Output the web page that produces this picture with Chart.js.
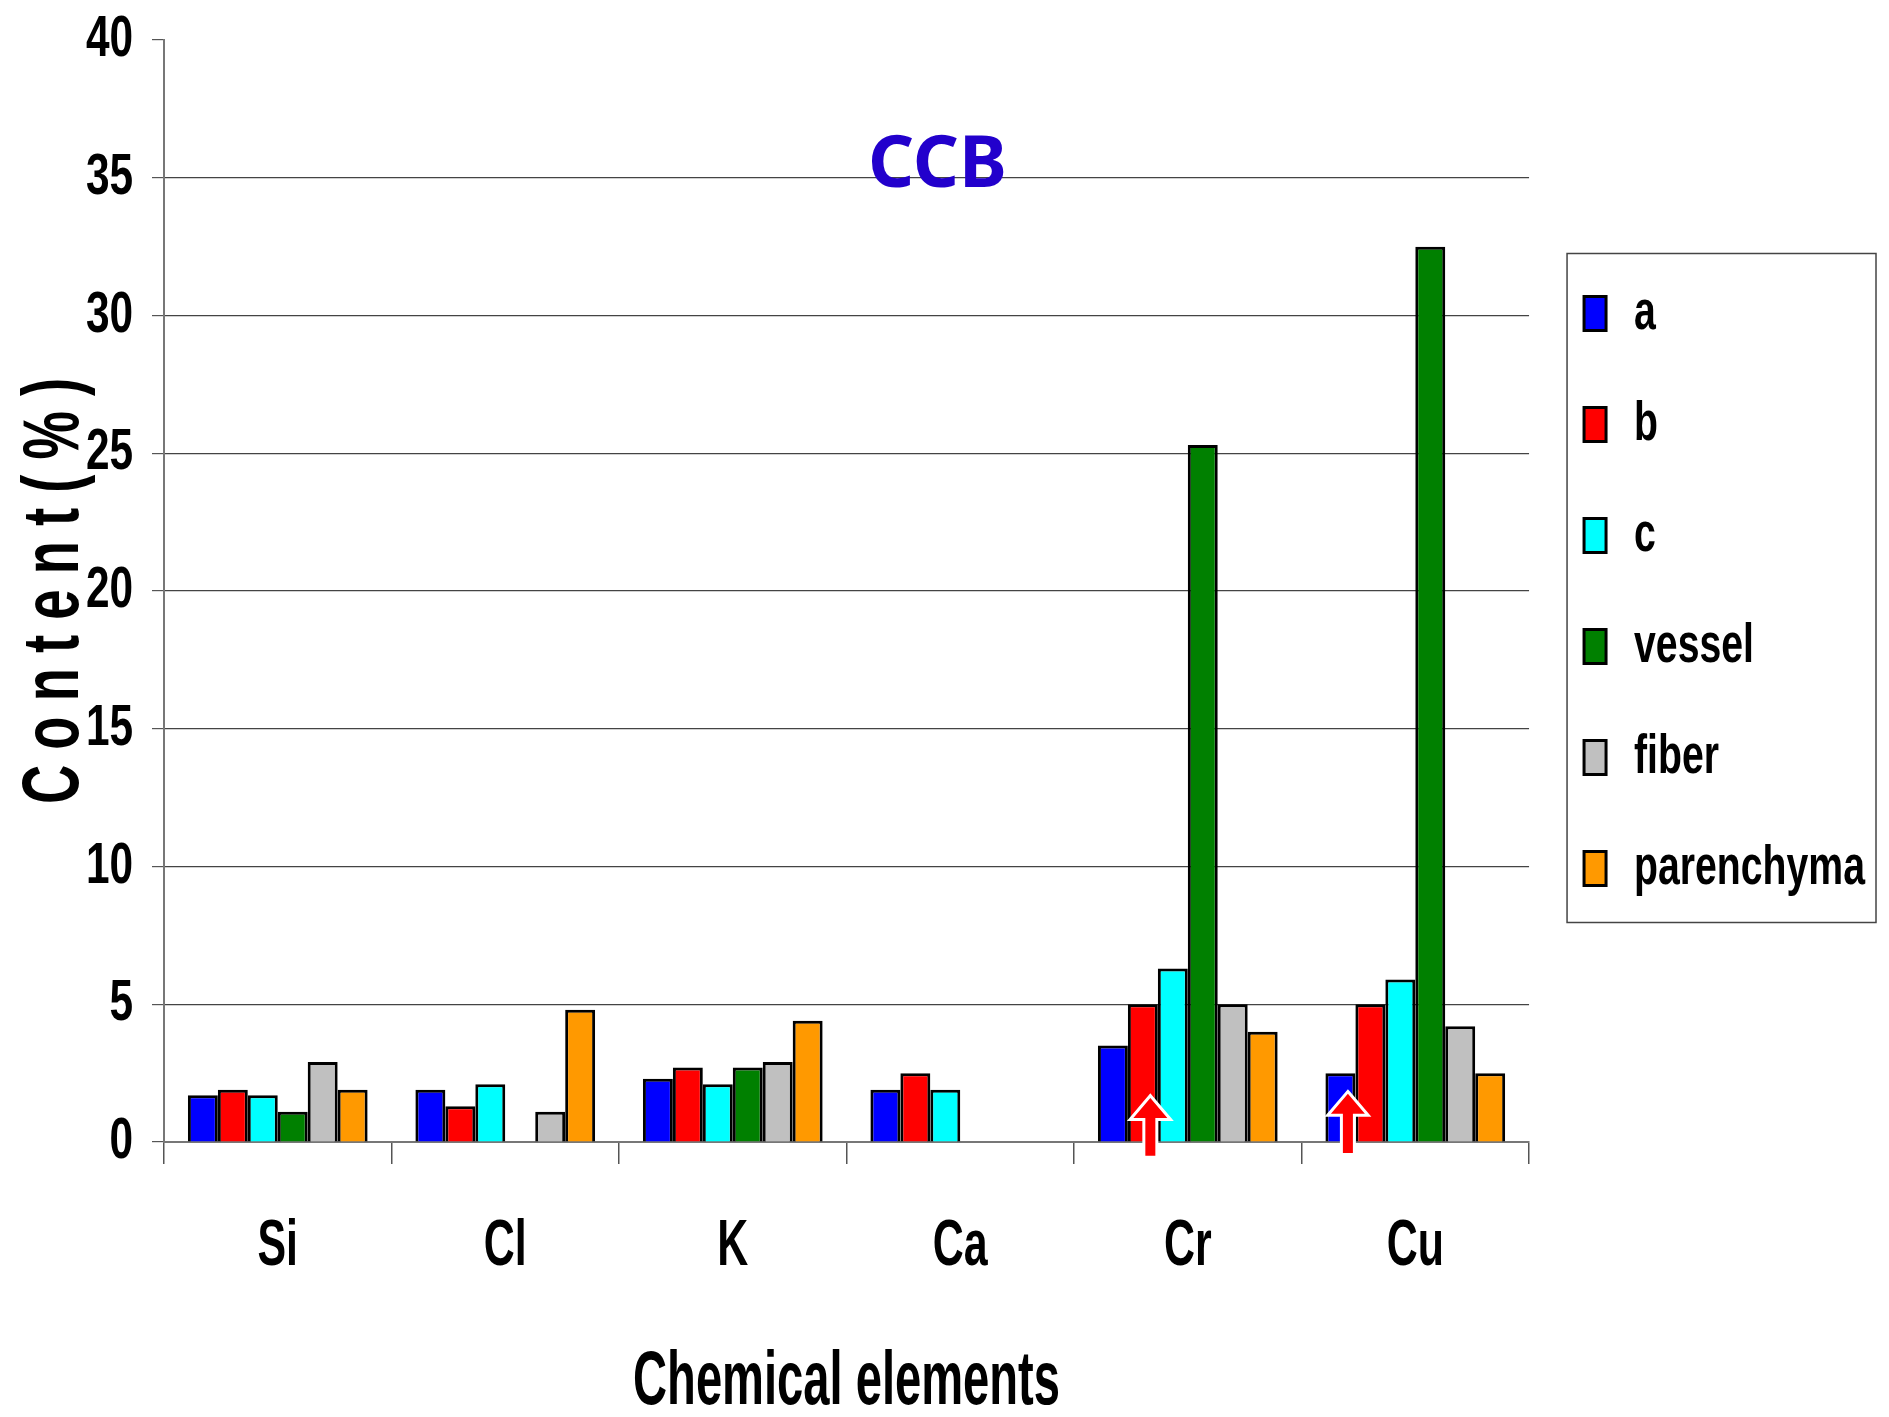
<!DOCTYPE html>
<html><head><meta charset="utf-8">
<script src="https://cdn.jsdelivr.net/npm/chart.js@4/dist/chart.umd.min.js"></script>
<style>html,body{margin:0;padding:0;background:#fff;} canvas{display:block;}</style>
</head><body>
<canvas id="c" width="1889" height="1417"></canvas>
<script>
const chartTitle = 'CCB';
const xAxisTitle = 'Chemical elements';
const yAxisTitle = 'C o n t e n t ( % )';
const categories = ['Si', 'Cl', 'K', 'Ca', 'Cr', 'Cu'];
const seriesNames = ['a', 'b', 'c', 'vessel', 'fiber', 'parenchyma'];
const valuesA = [1.7, 1.9, 2.3, 1.9, 3.5, 2.5];
const valuesB = [1.9, 1.3, 2.7, 2.5, 5.0, 5.0];
const valuesC = [1.7, 2.1, 2.1, 1.9, 6.3, 5.9];
const valuesVessel = [1.1, null, 2.7, null, 25.3, 32.5];
const valuesFiber = [2.9, 1.1, 2.9, null, 5.0, 4.2];
const valuesParenchyma = [1.9, 4.8, 4.4, null, 4.0, 2.5];
const yTicks = [0, 5, 10, 15, 20, 25, 30, 35, 40];
const arrowMarks = [
  { category: 'Cr', series: 'b', from: -0.5, to: 1.6 },
  { category: 'Cu', series: 'a', from: -0.4, to: 1.75 }
];

const seriesValues = [valuesA, valuesB, valuesC, valuesVessel, valuesFiber, valuesParenchyma];
const seriesColors = ['#0000FF', '#FF0000', '#00FFFF', '#008000', '#C0C0C0', '#FF9900'];

// Condensed bold lettering: the font family list carries a width factor (sqzNN),
// which falls back to Liberation Sans and is drawn horizontally condensed.
const fam = n => 'sqz' + n + ', "Liberation Sans", Arial, sans-serif';
(function () {
  const P = CanvasRenderingContext2D.prototype;
  const origFill = P.fillText, origMeasure = P.measureText;
  const factor = ctx => { const m = /sqz(\d+)/.exec(ctx.font); return m ? parseInt(m[1], 10) / 100 : 1; };
  P.fillText = function (text, x, y, maxWidth) {
    const f = factor(this);
    if (f === 1) { return maxWidth === undefined ? origFill.call(this, text, x, y) : origFill.call(this, text, x, y, maxWidth); }
    this.save();
    this.translate(x, y);
    this.scale(f, 1);
    if (maxWidth === undefined) origFill.call(this, text, 0, 0);
    else origFill.call(this, text, 0, 0, maxWidth / f);
    this.restore();
  };
  P.measureText = function (text) {
    const m = origMeasure.call(this, text);
    const f = factor(this);
    if (f === 1) return m;
    return {
      width: m.width * f,
      actualBoundingBoxLeft: m.actualBoundingBoxLeft * f,
      actualBoundingBoxRight: m.actualBoundingBoxRight * f,
      actualBoundingBoxAscent: m.actualBoundingBoxAscent,
      actualBoundingBoxDescent: m.actualBoundingBoxDescent,
      fontBoundingBoxAscent: m.fontBoundingBoxAscent,
      fontBoundingBoxDescent: m.fontBoundingBoxDescent
    };
  };
})();

const legendBorder = {
  id: 'legendBorder',
  afterDraw(chart) {
    const lg = chart.legend;
    if (!lg || !lg.legendHitBoxes || !lg.legendHitBoxes.length) return;
    const hb = lg.legendHitBoxes;
    let l = Infinity, r = -Infinity, t = Infinity, b = -Infinity;
    hb.forEach(h => { l = Math.min(l, h.left); r = Math.max(r, h.left + h.width); t = Math.min(t, h.top); b = Math.max(b, h.top + h.height); });
    const ctx = chart.ctx;
    ctx.save();
    ctx.strokeStyle = '#444';
    ctx.lineWidth = 1.5;
    ctx.strokeRect(l - 17, t - 32, (r + 11) - (l - 17), (b + 26) - (t - 32));
    ctx.restore();
  }
};

const arrows = {
  id: 'arrows',
  afterDatasetsDraw(chart) {
    const ctx = chart.ctx;
    const ys = chart.scales.y;
    arrowMarks.forEach(m => {
      const meta = chart.getDatasetMeta(seriesNames.indexOf(m.series));
      const el = meta.data[categories.indexOf(m.category)];
      if (!el) return;
      const x = el.x + el.width * 0.25;
      const yTop = ys.getPixelForValue(m.to);
      const yBot = ys.getPixelForValue(m.from);
      const hh = 20, hw = 17, sw = 5;
      ctx.save();
      ctx.beginPath();
      ctx.moveTo(x, yTop);
      ctx.lineTo(x + hw, yTop + hh);
      ctx.lineTo(x + sw, yTop + hh);
      ctx.lineTo(x + sw, yBot);
      ctx.lineTo(x - sw, yBot);
      ctx.lineTo(x - sw, yTop + hh);
      ctx.lineTo(x - hw, yTop + hh);
      ctx.closePath();
      ctx.lineJoin = 'miter';
      ctx.strokeStyle = '#FFFFFF';
      ctx.lineWidth = 6;
      ctx.stroke();
      ctx.fillStyle = '#FF0000';
      ctx.fill();
      ctx.restore();
    });
  }
};

const moveTitle = {
  id: 'moveTitle',
  afterLayout(chart) {
    const tb = chart.titleBlock;
    if (!tb) return;
    const shift = 166 - (tb.top + tb.height / 2);
    tb.top += shift; tb.bottom += shift;
  }
};

new Chart(document.getElementById('c'), {
  type: 'bar',
  data: {
    labels: categories,
    datasets: seriesNames.map((n, i) => ({
      label: n,
      data: seriesValues[i],
      backgroundColor: seriesColors[i],
      borderColor: '#000000',
      borderWidth: 3,
      categoryPercentage: 0.79,
      barPercentage: 1.0
    }))
  },
  options: {
    responsive: false,
    animation: false,
    devicePixelRatio: 1,
    layout: { padding: { top: -46.4, right: 14, bottom: 0, left: 0 } },
    plugins: {
      tooltip: { enabled: false },
      title: {
        display: true,
        text: chartTitle,
        color: '#2200CC',
        font: { family: '"Noto Sans", "Open Sans", sans-serif', size: 72, weight: 'bold', lineHeight: 1.2 },
        padding: 0
      },
      legend: {
        display: true,
        position: 'right',
        fullSize: false,
        align: 'center',
        labels: {
          color: '#000',
          font: { family: fam(70), size: 56, weight: 'bold', lineHeight: 1.0 },
          boxWidth: 22,
          boxHeight: 34,
          padding: 55
        }
      }
    },
    scales: {
      x: {
        afterFit: s => { s.height = 275; s.paddingLeft = 0; s.paddingRight = 0; },
        grid: { offset: true, drawOnChartArea: false, drawTicks: true, tickLength: 22, color: '#555', lineWidth: 1.5 },
        border: { display: true, color: '#777', width: 2 },
        ticks: { color: '#000', padding: 44, font: { family: fam(66), size: 65, weight: 'bold' } },
        title: {
          display: true, text: xAxisTitle, color: '#000',
          font: { family: fam(62), size: 76, weight: 'bold', lineHeight: 0.9 },
          padding: { top: 0, bottom: 0 }
        }
      },
      y: {
        min: 0, max: 40,
        afterFit: s => { s.width = 164; s.paddingTop = 0; s.paddingBottom = 0; },
        afterBuildTicks: s => { s.ticks = yTicks.map(v => ({ value: v })); },
        grid: {
          color: c => (c.tick && c.tick.value === 40) ? 'rgba(0,0,0,0)' : '#444',
          tickColor: '#555', lineWidth: 1.2, tickLength: 12
        },
        border: { display: true, color: '#777', width: 2 },
        ticks: { color: '#000', padding: 19, font: { family: fam(73), size: 58, weight: 'bold' } },
        title: {
          display: true, text: yAxisTitle, color: '#000',
          font: { family: fam(68), size: 80, weight: 'bold', lineHeight: 1.0 },
          padding: { top: 16, bottom: 0 }
        }
      }
    }
  },
  plugins: [legendBorder, arrows, moveTitle]
});
</script>
</body></html>
